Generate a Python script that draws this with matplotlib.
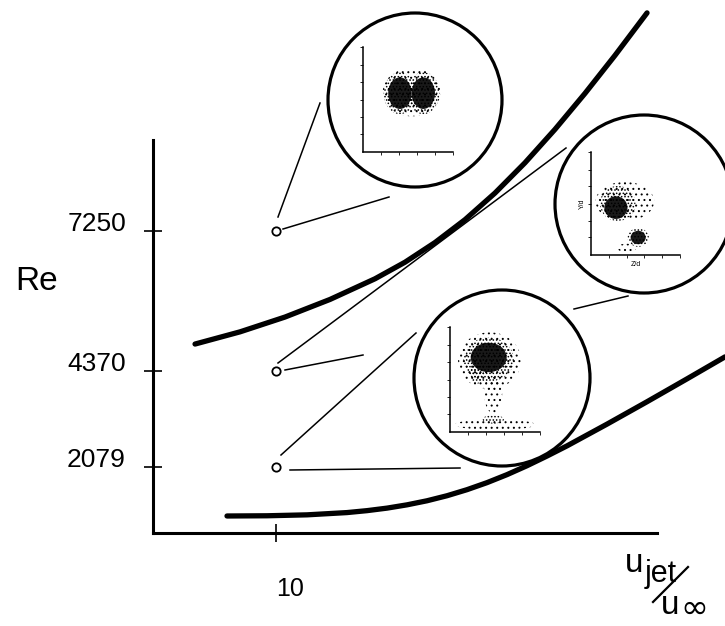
import numpy as np
import matplotlib
matplotlib.use("Agg")
from matplotlib import pyplot as plt
from matplotlib import patches

plt.rcParams['font.family'] = ['Liberation Sans', 'DejaVu Sans']
plt.rcParams['hatch.linewidth'] = 0.7

# The three cases: Reynolds number at u_jet/u_inf = 10
re_levels = [7250, 4370, 2079]
ratio_levels = [10, 10, 10]
x_ticks = [10]

# Upper regime boundary (schematic)
upper_x = [3.42, 7.08, 10.74, 14.40, 18.06, 20.50, 22.94, 25.38, 27.82,
           30.26, 32.70, 35.14, 37.58, 40.19]
upper_re = [4956, 5215, 5525, 5888, 6307, 6638, 7026, 7470, 7979,
            8548, 9165, 9818, 10496, 11243]

# Lower regime boundary (schematic)
lower_x = [6.02, 9.27, 12.53, 15.78, 17.41, 19.04, 20.66, 22.29, 23.92,
           25.54, 27.17, 28.80, 30.42, 32.05, 33.68, 36.93, 40.19, 43.44,
           46.53]
lower_re = [615, 623, 656, 735, 801, 885, 991, 1119, 1273,
            1451, 1652, 1874, 2112, 2365, 2623, 3154, 3680, 4197,
            4680]

# Point clouds inside the three insets, as clusters (axes fractions):
# centre x, centre y, width, height, density ('core', 'dense', 'sparse')
top_cx = [0.54, 0.41, 0.67, 0.41, 0.67]
top_cy = [0.57, 0.56, 0.56, 0.56, 0.56]
top_w = [0.64, 0.36, 0.36, 0.26, 0.26]
top_h = [0.46, 0.40, 0.40, 0.30, 0.30]
top_kind = ['sparse', 'dense', 'dense', 'core', 'core']

right_cx = [0.38, 0.30, 0.28, 0.53, 0.53, 0.40]
right_cy = [0.52, 0.50, 0.46, 0.17, 0.17, 0.07]
right_w = [0.66, 0.40, 0.26, 0.24, 0.17, 0.22]
right_h = [0.38, 0.34, 0.22, 0.18, 0.13, 0.08]
right_kind = ['sparse', 'dense', 'core', 'dense', 'core', 'sparse']

low_cx = [0.44, 0.43, 0.43, 0.48, 0.50, 0.48, 0.30]
low_cy = [0.68, 0.69, 0.71, 0.36, 0.07, 0.12, 0.56]
low_w = [0.70, 0.56, 0.40, 0.20, 0.90, 0.24, 0.16]
low_h = [0.54, 0.42, 0.28, 0.36, 0.10, 0.08, 0.20]
low_kind = ['sparse', 'dense', 'core', 'sparse', 'sparse', 'dense', 'dense']

W, H = 725, 626
fig = plt.figure(figsize=(W / 100, H / 100), dpi=100)


def px_rect(x0, y0, x1, y1):
    # pixel box (origin top-left) -> figure fraction rect
    return [x0 / W, 1 - y1 / H, (x1 - x0) / W, (y1 - y0) / H]


# Overlay in pixel coordinates for the leader lines and inset circles
over = fig.add_axes([0, 0, 1, 1])
over.set_xlim(0, W)
over.set_ylim(H, 0)
over.axis('off')

leaders = [((278, 217), (320, 103)), ((283, 229), (389, 197)),
           ((278, 363), (566, 148)), ((285, 370), (363, 355)),
           ((281, 455), (416, 333)), ((290, 470), (460, 468)),
           ((574, 309), (628, 296))]
for (x0, y0), (x1, y1) in leaders:
    over.plot([x0, x1], [y0, y1], color='black', lw=1.1)

circles = [(415, 100, 87), (644, 204, 89), (502, 378, 88)]
for cx, cy, r in circles:
    over.add_patch(patches.Circle((cx, cy), r, fill=False, lw=2.3,
                                  ec='black'))

# x axis label u_jet / u_inf
over.text(625, 572, 'u', fontsize=24, ha='left', va='baseline')
over.text(645, 582, 'jet', fontsize=22, ha='left', va='baseline')
over.plot([653, 688], [602, 567], color='black', lw=1.6)
over.text(661, 614, 'u', fontsize=24, ha='left', va='baseline')
over.text(680, 625, '\u221e', fontsize=24, ha='left', va='bottom',
          family=['DejaVu Sans'])

# Main schematic axes
ax = fig.add_axes(px_rect(153, 140, 657, 533))
ax.patch.set_visible(False)
ax.set_yscale('function',
              functions=(lambda y: np.sign(y) * np.abs(y) ** 1.25,
                         lambda t: np.sign(t) * np.abs(t) ** 0.8))
ax.set_xlim(0, 41)
ax.set_ylim(-199, 8970)
for side in ['top', 'right']:
    ax.spines[side].set_visible(False)
for side in ['left', 'bottom']:
    ax.spines[side].set_linewidth(2.2)

ax.set_yticks(re_levels)
ax.set_yticklabels([str(v) for v in re_levels])
ax.set_xticks(x_ticks)
ax.set_xticklabels([str(v) for v in x_ticks])
ax.tick_params(axis='y', direction='inout', length=13, width=1.2,
               labelsize=19, pad=13)
ax.tick_params(axis='x', direction='inout', length=13, width=1.2,
               labelsize=18, pad=25)
for lbl in ax.get_yticklabels():
    lbl.set_verticalalignment('baseline')
for lbl in ax.get_xticklabels():
    lbl.set_horizontalalignment('left')

ax.set_ylabel('Re', rotation=0, fontsize=24, ha='center', va='center')
ax.yaxis.set_label_coords(-0.232, 0.641)

ax.plot(upper_x, upper_re, color='black', lw=3.8, solid_capstyle='round',
        solid_joinstyle='round', clip_on=False)
ax.plot(lower_x, lower_re, color='black', lw=3.8, solid_capstyle='round',
        solid_joinstyle='round', clip_on=False)
ax.plot(ratio_levels, re_levels, 'o', ls='none', mfc='white', mec='black',
        ms=6, mew=1.3, clip_on=False, zorder=5)


def inset(box, cx, cy, w, h, kind, xlabel=None, ylabel=None):
    ia = fig.add_axes(px_rect(*box))
    ia.patch.set_visible(False)
    ia.set_xlim(0, 1)
    ia.set_ylim(0, 1)
    for side in ['top', 'right']:
        ia.spines[side].set_visible(False)
    for side in ['left', 'bottom']:
        ia.spines[side].set_linewidth(1.1)
    ia.set_xticks([0.2, 0.4, 0.6, 0.8, 1.0])
    ia.set_yticks([0.17, 0.33, 0.5, 0.67, 0.83, 1.0])
    ia.tick_params(length=2, width=0.6, direction='out',
                   labelbottom=False, labelleft=False)
    hatches = {'sparse': '...', 'dense': '.....'}
    for x, y, ww, hh, k in zip(cx, cy, w, h, kind):
        if k == 'core':
            e = patches.Ellipse((x, y), ww, hh, transform=ia.transAxes,
                                fc='black', ec='none', alpha=0.9)
        else:
            e = patches.Ellipse((x, y), ww, hh, transform=ia.transAxes,
                                fill=False, ec='black', lw=0,
                                hatch=hatches[k])
        ia.add_patch(e)
    if xlabel:
        ia.set_xlabel(xlabel, fontsize=5, labelpad=2)
    if ylabel:
        ia.set_ylabel(ylabel, fontsize=5, labelpad=2)
    return ia


inset((363, 47, 453, 152), top_cx, top_cy, top_w, top_h, top_kind)
inset((591, 152, 680, 255), right_cx, right_cy, right_w, right_h,
      right_kind, xlabel='Z/d', ylabel='Y/d')
inset((450, 327, 540, 432), low_cx, low_cy, low_w, low_h, low_kind)

fig.savefig('out.png', dpi=100)
